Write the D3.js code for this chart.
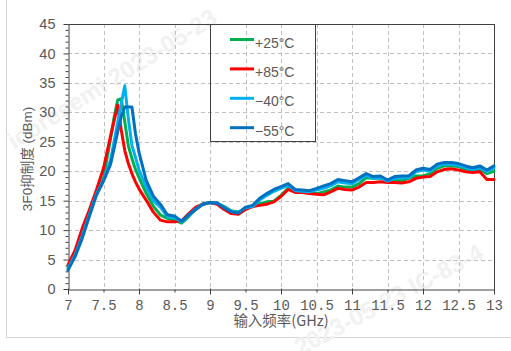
<!DOCTYPE html>
<html>
<head>
<meta charset="utf-8">
<script src="https://cdn.jsdelivr.net/npm/d3@7"></script>
<style>
  html, body { margin: 0; padding: 0; background: #ffffff; }
  svg { display: block; }
</style>
</head>
<body>
<svg id="chart" width="511" height="351"></svg>
<script>
// Input frequency (GHz)
const freq = [
  7.0, 7.1, 7.2, 7.3, 7.4, 7.5, 7.6,
  7.65, 7.7, 7.75, 7.8, 7.85, 7.9, 7.95,
  8.0, 8.1, 8.2, 8.3, 8.4, 8.5, 8.6, 8.7, 8.8, 8.9,
  9.0, 9.1, 9.2, 9.3, 9.4, 9.5, 9.6, 9.7, 9.8, 9.9,
  10.0, 10.1, 10.2, 10.3, 10.4, 10.5, 10.6, 10.7, 10.8, 10.9,
  11.0, 11.1, 11.2, 11.3, 11.4, 11.5, 11.6, 11.7, 11.8, 11.9,
  12.0, 12.1, 12.2, 12.3, 12.4, 12.5, 12.6, 12.7, 12.8, 12.9,
  13.0
];

// 3F0 rejection (dBm) per temperature
const t25 = [
  3.8, 6.2, 9.6, 13.0, 16.4, 18.8, 25.6,
  29.2, 32.1, 32.3, 28.4, 24.3, 22.2, 20.3,
  18.9, 16.3, 14.1, 12.6, 12.0, 11.7, 11.2, 12.3, 13.6, 14.5,
  14.7, 14.6, 14.0, 13.3, 13.1, 13.7, 14.0, 14.5, 14.8, 14.9,
  15.9, 17.1, 16.5, 16.5, 16.4, 16.2, 16.5, 16.8, 17.5, 17.3,
  17.3, 17.9, 18.9, 18.8, 18.8, 18.5, 18.5, 18.4, 18.8, 19.2,
  19.2, 19.6, 20.5, 20.9, 20.9, 20.8, 20.3, 20.2, 20.3, 19.6,
  20.0
];
const t85 = [
  4.1, 6.6, 10.3, 13.4, 16.8, 20.5, 26.0,
  28.6, 31.2, 27.0, 23.5, 21.3, 19.6, 18.2,
  17.0, 15.1, 13.1, 11.7, 11.4, 11.4, 11.6, 12.8, 13.9, 14.4,
  14.7, 14.4, 13.5, 12.8, 12.7, 13.5, 14.0, 14.2, 14.4, 14.8,
  15.7, 16.9, 16.4, 16.4, 16.2, 16.1, 16.0, 16.5, 17.1, 16.9,
  16.8, 17.3, 18.1, 18.1, 18.2, 18.1, 18.1, 18.0, 18.2, 18.8,
  19.0, 19.1, 19.9, 20.3, 20.4, 20.2, 19.9, 19.8, 19.9, 18.6,
  18.6
];
const tm40 = [
  3.5, 5.8, 9.0, 12.6, 16.1, 18.5, 21.9,
  25.1, 28.3, 31.5, 34.5, 28.9, 24.4, 22.4,
  20.2, 17.4, 15.0, 13.9, 12.3, 12.1, 11.4, 12.5, 13.6, 14.4,
  14.7, 14.6, 13.9, 13.2, 13.0, 13.8, 14.0, 15.1, 15.9, 16.6,
  17.1, 17.6, 16.7, 16.6, 16.5, 16.8, 17.1, 17.5, 18.2, 18.0,
  17.9, 18.6, 19.3, 18.8, 18.9, 18.3, 18.8, 18.9, 18.9, 19.9,
  20.2, 20.0, 20.9, 21.2, 21.2, 21.0, 20.6, 20.3, 20.6, 19.9,
  20.6
];
const tm55 = [
  3.2, 5.5, 8.6, 12.3, 15.9, 18.3, 21.2,
  23.9, 26.7, 29.3, 30.9, 30.9, 30.9, 26.4,
  23.2, 18.5, 15.8, 14.4, 12.6, 12.4, 11.5, 12.6, 13.5, 14.4,
  14.7, 14.6, 13.8, 13.1, 12.9, 13.9, 14.2, 15.4, 16.2, 16.9,
  17.4, 17.9, 16.9, 16.8, 16.7, 17.1, 17.5, 17.9, 18.6, 18.4,
  18.2, 18.9, 19.6, 19.1, 19.2, 18.5, 19.1, 19.2, 19.2, 20.2,
  20.5, 20.3, 21.2, 21.5, 21.5, 21.3, 20.9, 20.6, 20.9, 20.2,
  20.9
];

const seriesNames = ["+25°C", "+85°C", "\u221240°C", "\u221255°C"];
const seriesColors = ["#00B050", "#FF0000", "#00B0F0", "#0070C0"];
const seriesValues = [t25, t85, tm40, tm55];

const xTicks = [7, 7.5, 8, 8.5, 9, 9.5, 10, 10.5, 11, 11.5, 12, 12.5, 13];
const yTicks = [0, 5, 10, 15, 20, 25, 30, 35, 40, 45];

const xTitle = "输入频率(GHz)";
const yTitle = "3F0抑制度 (dBm)";

// ---- layout ----
const W = 511, H = 351;
const margin = { top: 24, right: 17, bottom: 62, left: 68 };
const x = d3.scaleLinear().domain([7, 13]).range([margin.left, W - margin.right]);
const y = d3.scaleLinear().domain([0, 45]).range([H - margin.bottom, margin.top]);

const svg = d3.select("#chart");
const axisColor = "#404040";
const textColor = "#595959";

// outer frame lines of the sheet
svg.append("line").attr("x1", 6.5).attr("x2", 6.5).attr("y1", 0).attr("y2", 337)
  .attr("stroke", "#d4d4d4").attr("stroke-width", 1);
svg.append("line").attr("x1", 6).attr("x2", W).attr("y1", 337.5).attr("y2", 337.5)
  .attr("stroke", "#d4d4d4").attr("stroke-width", 1);

// faint watermark
const wm = svg.append("g").attr("font-family", "Liberation Sans, Arial, sans-serif")
  .attr("font-size", 24).attr("font-weight", "bold").attr("fill", "#f1f1f1");
wm.append("text").attr("transform", "translate(14,150) rotate(-32)").text("icoresemi 2023-05-23");
wm.append("text").attr("transform", "translate(300,356) rotate(-28)").text("2023-05-23 IC-83-4");

// grid
const grid = svg.append("g").attr("stroke", "#c0c0c0").attr("stroke-width", 1)
  .attr("stroke-dasharray", "4,3");
grid.selectAll("line.h").data(yTicks.filter(v => v > 0 && v < 45)).join("line")
  .attr("class", "h")
  .attr("x1", x(7)).attr("x2", x(13))
  .attr("y1", d => Math.round(y(d)) + 0.5).attr("y2", d => Math.round(y(d)) + 0.5);
grid.selectAll("line.v").data(xTicks.filter(v => v > 7 && v < 13)).join("line")
  .attr("class", "v")
  .attr("y1", y(45)).attr("y2", y(0))
  .attr("x1", d => Math.round(x(d)) + 0.5).attr("x2", d => Math.round(x(d)) + 0.5);

// plot frame (top and right)
svg.append("line").attr("x1", x(7)).attr("x2", x(13))
  .attr("y1", Math.round(y(45)) + 0.5).attr("y2", Math.round(y(45)) + 0.5)
  .attr("stroke", axisColor);
svg.append("line").attr("x1", Math.round(x(13)) + 0.5).attr("x2", Math.round(x(13)) + 0.5)
  .attr("y1", y(45)).attr("y2", y(0))
  .attr("stroke", axisColor);

// y axis: minor ticks every 1 dB, major every 5 dB
const yMinor = svg.append("g").attr("transform", `translate(${Math.round(x(7)) + 0.5},0)`)
  .call(d3.axisLeft(y).tickValues(d3.range(0, 46, 1).filter(v => v % 5 !== 0)).tickSize(3).tickFormat(""));
yMinor.select(".domain").remove();
yMinor.selectAll("line").attr("stroke", axisColor);

const yAxis = svg.append("g").attr("transform", `translate(${Math.round(x(7)) + 0.5},0)`)
  .call(d3.axisLeft(y).tickValues(yTicks).tickSize(5).tickSizeOuter(0).tickPadding(8));
yAxis.select(".domain").attr("stroke", axisColor);
yAxis.selectAll("line").attr("stroke", axisColor);
yAxis.selectAll("text")
  .attr("font-family", "Liberation Sans, Arial, sans-serif")
  .attr("font-size", 14.5).attr("fill", textColor);

// x axis: labels every 0.5 GHz, longer ticks on whole GHz
const xAxis = svg.append("g").attr("transform", `translate(0,${Math.round(y(0)) + 0.5})`)
  .call(d3.axisBottom(x).tickValues(xTicks).tickSize(5).tickSizeOuter(0).tickPadding(6)
    .tickFormat(d => String(d)));
xAxis.select(".domain").attr("stroke", axisColor);
xAxis.selectAll(".tick line")
  .attr("stroke", axisColor)
  .attr("y1", d => Number.isInteger(d) ? -1 : 0)
  .attr("y2", d => Number.isInteger(d) ? 5 : 3);
xAxis.selectAll("text")
  .attr("font-family", "Liberation Mono, DejaVu Sans Mono, monospace")
  .attr("font-size", 14).attr("fill", textColor);

// axis titles
svg.append("text")
  .attr("x", (x(7) + x(13)) / 2).attr("y", 326)
  .attr("text-anchor", "middle")
  .attr("font-family", "Noto Sans CJK SC, sans-serif")
  .attr("font-size", 14.5).attr("fill", textColor)
  .text(xTitle);
svg.append("text")
  .attr("transform", "translate(27,159) rotate(-90)")
  .attr("text-anchor", "middle").attr("dominant-baseline", "central")
  .attr("font-family", "Liberation Sans, Noto Sans CJK SC, sans-serif")
  .attr("font-size", 13.5).attr("fill", textColor)
  .text(yTitle);

// series lines
const line = d3.line()
  .x((d, i) => x(freq[i]))
  .y(d => y(d))
  .curve(d3.curveLinear);

svg.append("g").selectAll("path").data(seriesValues).join("path")
  .attr("d", d => line(d))
  .attr("fill", "none")
  .attr("stroke", (d, i) => seriesColors[i])
  .attr("stroke-width", 3)
  .attr("stroke-linejoin", "round")
  .attr("stroke-linecap", "round");

// legend
const lg = svg.append("g");
lg.append("rect")
  .attr("x", 210.5).attr("y", 24.5).attr("width", 105).attr("height", 117)
  .attr("fill", "none").attr("stroke", axisColor).attr("stroke-width", 1);
const rows = lg.selectAll("g.row").data(seriesNames).join("g")
  .attr("class", "row")
  .attr("transform", (d, i) => `translate(0,${39.5 + i * 29.4})`);
rows.append("line")
  .attr("x1", 230).attr("x2", 254).attr("y1", 0).attr("y2", 0)
  .attr("stroke", (d, i) => seriesColors[i]).attr("stroke-width", 3);
rows.append("text")
  .attr("x", 255).attr("y", 8)
  .attr("font-family", "Liberation Sans, Arial, sans-serif")
  .attr("font-size", 14).attr("fill", textColor)
  .text(d => d);
</script>
</body>
</html>
